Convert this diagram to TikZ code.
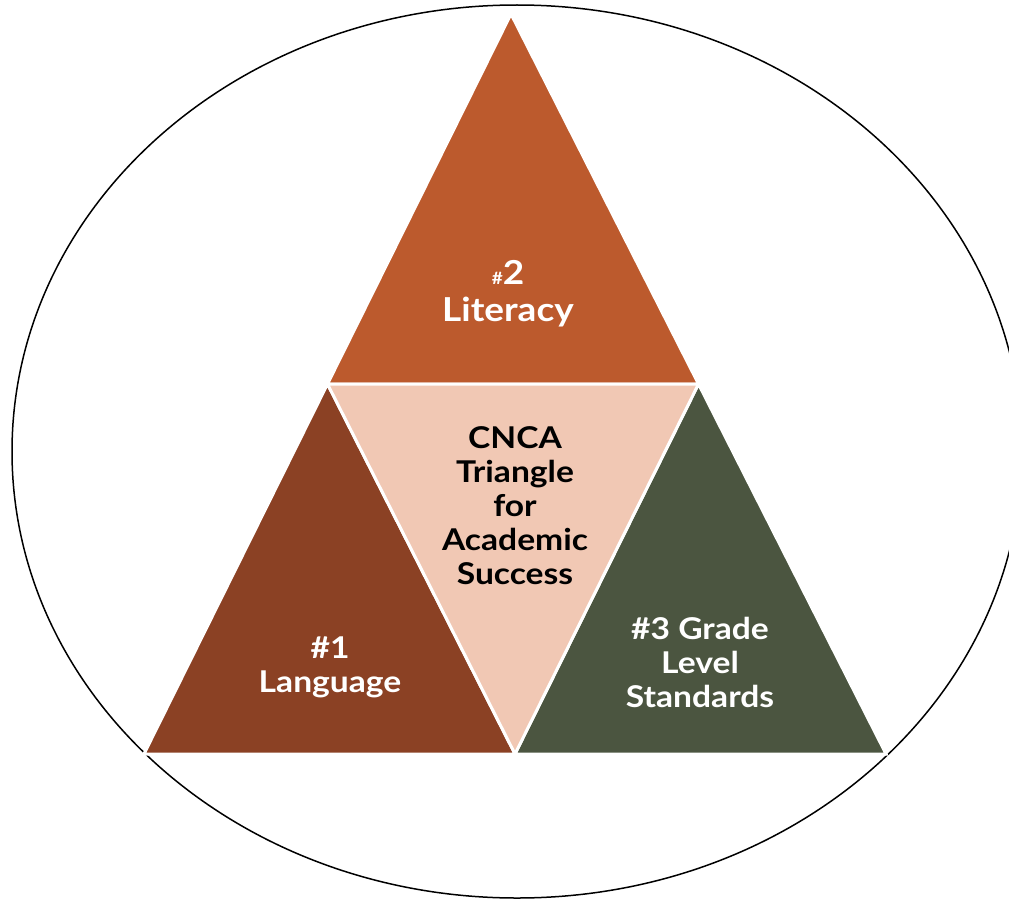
\documentclass[tikz,border=0pt]{standalone}
\usepackage{fontspec}
\setmainfont{Lato}[FakeStretch=1.12]
\usetikzlibrary{calc}
\definecolor{topc}{RGB}{188,90,45}
\definecolor{leftc}{RGB}{139,65,36}
\definecolor{rightc}{RGB}{75,85,64}
\definecolor{midc}{RGB}{241,200,180}
\tikzset{
  tri/.style={draw=white,line width=3pt,line join=miter},
  lbl/.style={align=center,font=\fontsize{30}{34}\selectfont\bfseries,inner sep=0pt},
  biglbl/.style={lbl,font=\fontsize{33}{37}\selectfont\bfseries},
}
\begin{document}
\begin{tikzpicture}[x=1pt,y=-1pt]
\useasboundingbox (0,0) rectangle (1009,899);
\clip (0,0) rectangle (1009,899);
\fill[white] (0,0) rectangle (1009,899);
\draw[line width=1.5pt] (517,451.5) ellipse [x radius=505, y radius=446.5];
% big triangle points
\coordinate (A) at (511,14);
\coordinate (BL) at (144,754);
\coordinate (BR) at (886,754);
\coordinate (ML) at ($(A)!0.5!(BL)$);
\coordinate (MR) at ($(A)!0.5!(BR)$);
\coordinate (MB) at ($(BL)!0.5!(BR)$);
\filldraw[tri,fill=topc] (A) -- (ML) -- (MR) -- cycle;
\filldraw[tri,fill=leftc] (ML) -- (BL) -- (MB) -- cycle;
\filldraw[tri,fill=rightc] (MR) -- (MB) -- (BR) -- cycle;
\filldraw[tri,fill=midc] (ML) -- (MR) -- (MB) -- cycle;
\node[biglbl,text=white] (lit) at (508,294) {{\fontsize{17}{37}\selectfont\#}2\\Literacy};
\node[lbl,text=black] (cnca) at (515,506) {CNCA\\Triangle\\for\\Academic\\Success};
\node[lbl,text=white] (lang) at (330,667) {\#1\\Language};
\node[lbl,text=white] (std) at (700,662) {\#3 Grade\\Level\\Standards};
\end{tikzpicture}
\end{document}
